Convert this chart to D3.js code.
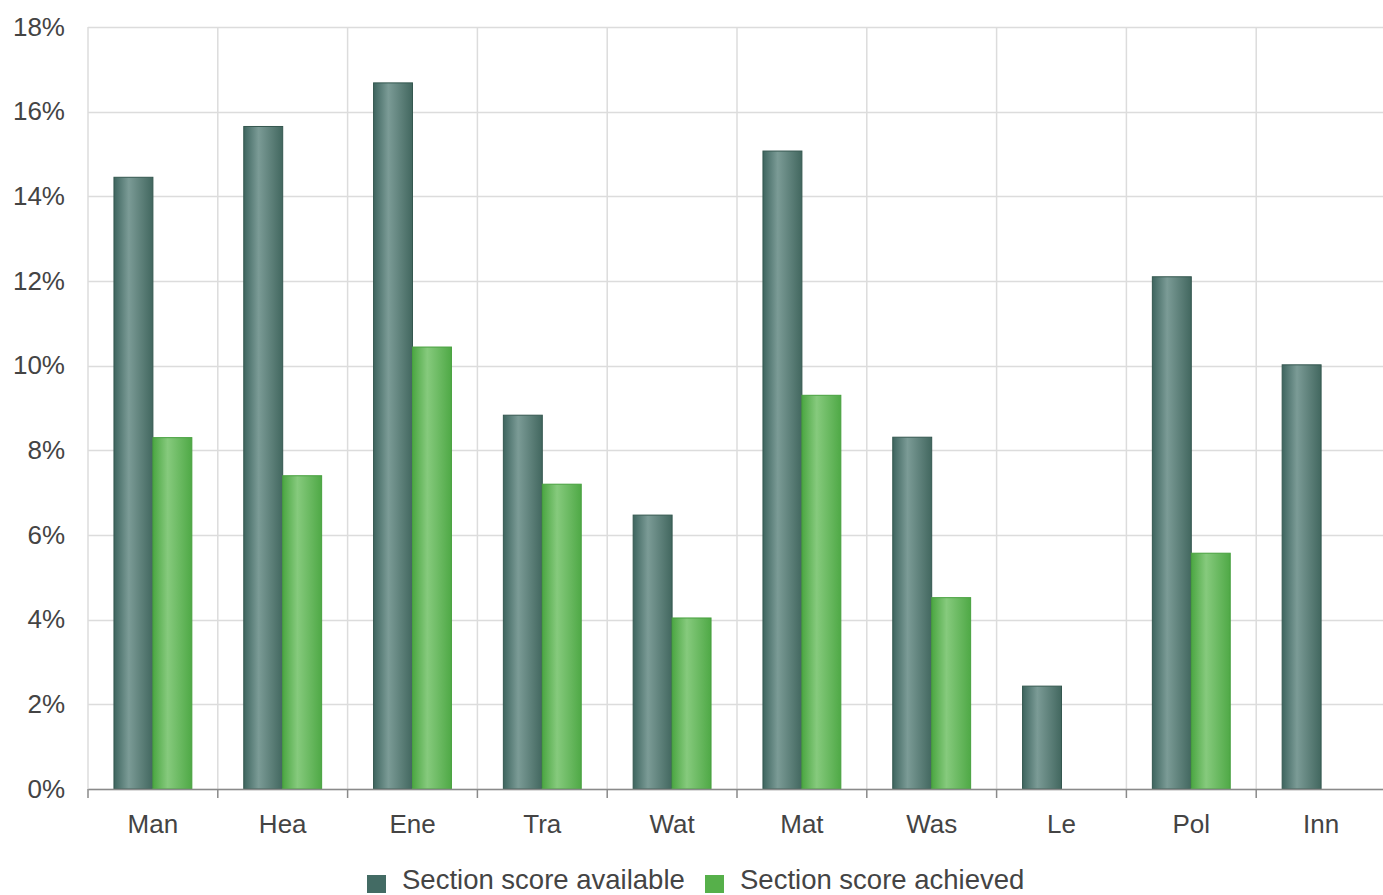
<!DOCTYPE html>
<html>
<head>
<meta charset="utf-8">
<script src="https://d3js.org/d3.v7.min.js"></script>
<style>
  body { margin:0; background:#fff; }
  svg { font-family:"Liberation Sans", Arial, sans-serif; }
  .tick text { fill:#444; }
  .legend text { fill:#444; }
</style>
</head>
<body>
<svg width="1383" height="895"></svg>
<script>
//categories along the bottom
var categories = ["Man","Hea","Ene","Tra","Wat","Mat","Was","Le","Pol","Inn"]
//percent values
var available = [14.45,15.65,16.68,8.83,6.47,15.07,8.31,2.43,12.1,10.02]
var achieved  = [8.3,7.4,10.44,7.2,4.04,9.3,4.52,0,5.57,0]
var seriesNames = ["Section score available","Section score achieved"]
var yTicks = [0,2,4,6,8,10,12,14,16,18]

var margins = {left:88,top:27,right:-3,bottom:106}
var screen = {width:1383,height:895}
var graph = {width:screen.width-margins.left-margins.right,
             height:screen.height-margins.top-margins.bottom}

var svg = d3.select("svg")

//gradients for the rounded look of the bars
var defs = svg.append("defs")
var makeGradient = function(id,edge,light,edge2)
{
    var g = defs.append("linearGradient")
        .attr("id",id)
        .attr("x1","0%").attr("x2","100%")
        .attr("y1","0%").attr("y2","0%")
    g.append("stop").attr("offset","0%").attr("stop-color",edge)
    g.append("stop").attr("offset","38%").attr("stop-color",light)
    g.append("stop").attr("offset","100%").attr("stop-color",edge2)
}
makeGradient("gradDark","#3e655f","#7b9b96","#42675f")
makeGradient("gradGreen","#4ba642","#86ca7d","#4fa946")

var xScale = d3.scaleBand()
    .domain(categories)
    .range([0,graph.width])

var yScale = d3.scaleLinear()
    .domain([0,18])
    .range([graph.height,0])

var target = svg.append("g")
    .attr("id","graph")
    .attr("transform","translate("+margins.left+","+margins.top+")")

//grid lines
target.append("g")
    .selectAll("line.h")
    .data(yTicks)
    .enter()
    .append("line")
    .attr("x1",0)
    .attr("x2",graph.width)
    .attr("y1",function(d){return Math.round(yScale(d))+0.5})
    .attr("y2",function(d){return Math.round(yScale(d))+0.5})
    .attr("stroke","#dcdcdc")
    .attr("stroke-width",1.5)

target.append("g")
    .selectAll("line.v")
    .data(categories)
    .enter()
    .append("line")
    .attr("x1",function(d){return xScale(d)})
    .attr("x2",function(d){return xScale(d)})
    .attr("y1",0)
    .attr("y2",graph.height)
    .attr("stroke","#dcdcdc")
    .attr("stroke-width",1.5)

//bars
var barW = xScale.bandwidth()*0.3
var seriesData = [available,achieved]
var fills = ["url(#gradDark)","url(#gradGreen)"]
var strokes = ["#34574f","#47a03e"]

seriesData.forEach(function(values,s)
{
    target.append("g")
        .selectAll("rect")
        .data(categories)
        .enter()
        .filter(function(d,i){return values[i]>0})
        .append("rect")
        .attr("x",function(d){return xScale(d)+xScale.bandwidth()/2-barW+s*barW})
        .attr("width",barW)
        .attr("y",function(d){return yScale(values[categories.indexOf(d)])})
        .attr("height",function(d){return graph.height-yScale(values[categories.indexOf(d)])})
        .attr("fill",fills[s])
        .attr("stroke",strokes[s])
        .attr("stroke-width",1)
})

//axes
var xAxis = d3.axisBottom(xScale).tickSize(0).tickPadding(26)
var yAxis = d3.axisLeft(yScale)
    .tickValues(yTicks)
    .tickSize(0)
    .tickPadding(23)
    .tickFormat(function(d){return d+"%"})

var gx = target.append("g")
    .attr("transform","translate(0,"+graph.height+")")
    .call(xAxis)
gx.select(".domain").attr("stroke","#8a8a8a").attr("stroke-width",1.5)
gx.selectAll("text").style("font-size","26px")

//tick marks on the band edges
gx.selectAll("line.edge")
    .data(categories)
    .enter()
    .append("line")
    .attr("x1",function(d){return xScale(d)})
    .attr("x2",function(d){return xScale(d)})
    .attr("y1",0)
    .attr("y2",9)
    .attr("stroke","#8a8a8a")
    .attr("stroke-width",1.5)

var gy = target.append("g").call(yAxis)
gy.select(".domain").remove()
gy.selectAll("text").style("font-size","26px")

//legend
var legend = svg.append("g")
    .classed("legend",true)
var legendX = [367,705]
var legendColors = ["#436b64","#56b04a"]
seriesNames.forEach(function(name,i)
{
    legend.append("rect")
        .attr("x",legendX[i])
        .attr("y",875)
        .attr("width",19)
        .attr("height",18)
        .attr("fill",legendColors[i])
    legend.append("text")
        .attr("x",legendX[i]+35)
        .attr("y",889)
        .style("font-size","27.5px")
        .text(name)
})
</script>
</body>
</html>
